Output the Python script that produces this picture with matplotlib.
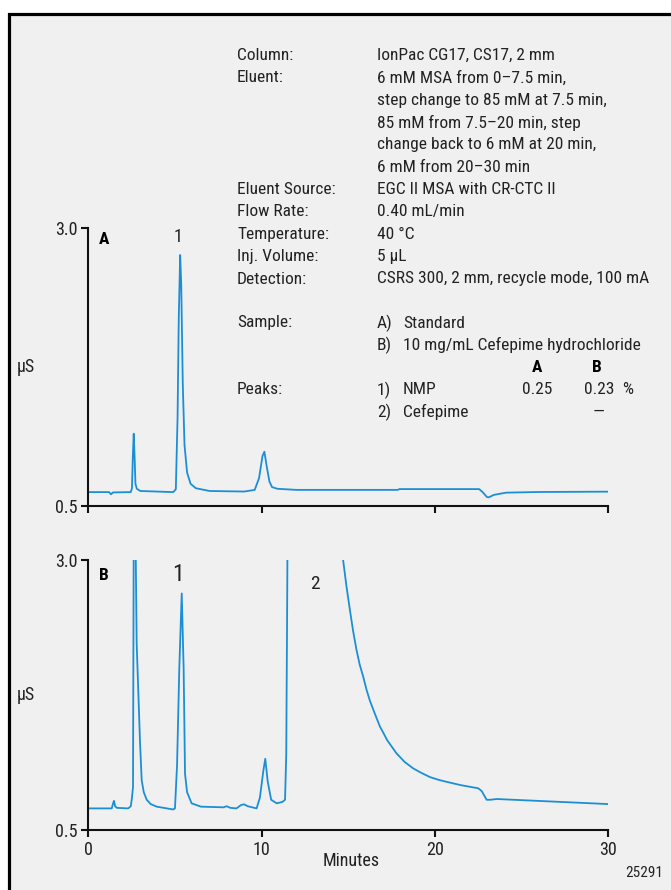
import matplotlib
matplotlib.use("Agg")
import matplotlib.pyplot as plt
from matplotlib.patches import Rectangle

plt.rcParams['font.family'] = ['Roboto Condensed', 'Archivo Narrow', 'DejaVu Sans']

# ---------------- data ----------------
time_a = [0.0, 1.2, 1.31, 1.42, 2.45, 2.52, 2.57, 2.62, 2.67, 2.72, 2.80, 3.0,
          4.9, 5.05, 5.15, 5.22, 5.30, 5.36, 5.45, 5.55, 5.70, 5.9, 6.2, 7.0,
          9.0, 9.6, 9.85, 10.05, 10.16, 10.3, 10.45, 10.6, 10.9, 12.0,
          17.85, 17.95, 22.55, 22.75, 23.0, 23.1, 23.4, 24.1, 26.0, 30.0]
signal_a = [0.625, 0.625, 0.605, 0.622, 0.625, 0.66, 0.95, 1.15, 0.95, 0.70, 0.655, 0.635,
            0.625, 0.65, 1.3, 2.2, 2.757, 2.5, 1.6, 1.05, 0.80, 0.70, 0.66, 0.635,
            0.63, 0.645, 0.75, 0.95, 0.988, 0.85, 0.72, 0.67, 0.655, 0.645,
            0.645, 0.652, 0.652, 0.625, 0.58, 0.578, 0.60, 0.62, 0.626, 0.629]

time_b = [0.0, 1.35, 1.42, 1.48, 1.55, 1.65, 2.3, 2.45, 2.52, 2.58, 2.62, 2.68,
          2.74, 2.79, 2.98, 3.08, 3.2, 3.37, 3.6, 3.95, 4.9, 5.0, 5.12, 5.25, 5.39, 5.5,
          5.58, 5.70, 5.96, 6.5, 7.8, 7.98, 8.2, 8.55, 8.8, 8.98, 9.2, 9.71,
          9.9, 10.1, 10.21, 10.35, 10.55, 10.87, 11.2, 11.35, 11.42, 11.47, 11.52,
          14.6, 14.70, 14.9, 15.09, 15.28, 15.47, 15.66, 15.86, 16.05, 16.24, 16.5,
          16.82, 17.25, 17.78, 18.25, 18.75, 19.2, 19.71, 20.2, 20.67, 21.5,
          22.5, 22.7, 22.98, 23.2, 23.56, 30.0]
signal_b = [0.70, 0.70, 0.74, 0.77, 0.72, 0.705, 0.70, 0.72, 0.80, 0.9, 3.2, 4.5,
            3.0, 2.23, 1.33, 0.96, 0.85, 0.78, 0.74, 0.716, 0.69, 0.70, 1.1, 2.0, 2.69, 2.0,
            1.02, 0.85, 0.747, 0.716, 0.71, 0.72, 0.705, 0.70, 0.73, 0.738, 0.72, 0.70,
            0.80, 1.05, 1.16, 0.95, 0.78, 0.747, 0.76, 0.78, 1.2, 2.5, 4.0,
            3.1, 3.0, 2.75, 2.54, 2.34, 2.17, 2.03, 1.92, 1.80, 1.70, 1.59,
            1.46, 1.33, 1.21, 1.13, 1.07, 1.03, 0.99, 0.965, 0.946, 0.915,
            0.886, 0.86, 0.78, 0.78, 0.787, 0.74]

x_ticks = [0, 10, 20, 30]
x_tick_labels = ["0", "10", "20", "30"]
y_ticks = [0.5, 3.0]
y_tick_labels = ["0.5", "3.0"]

cond_labels = ["Column:", "Eluent:", "", "", "", "", "Eluent Source:", "Flow Rate:",
               "Temperature:", "Inj. Volume:", "Detection:"]
cond_values = ["IonPac CG17, CS17, 2 mm",
               "6 mM MSA from 0\u20137.5 min,",
               "step change to 85 mM at 7.5 min,",
               "85 mM from 7.5\u201320 min, step",
               "change back to 6 mM at 20 min,",
               "6 mM from 20\u201330 min",
               "EGC II MSA with CR-CTC II",
               "0.40 mL/min",
               "40 \u00b0C",
               "5 \u00b5L",
               "CSRS 300, 2 mm, recycle mode, 100 mA"]
sample_ids = ["A)", "B)"]
sample_names = ["Standard", "10 mg/mL Cefepime hydrochloride"]
peak_ids = ["1)", "2)"]
peak_names = ["NMP", "Cefepime"]
peak_amount_a = ["0.25", ""]
peak_amount_b = ["0.23", "\u2014"]

# ---------------- figure ----------------
W, H = 671, 890
fig = plt.figure(figsize=(W / 100, H / 100), dpi=100)
fig.patch.set_facecolor('white')

def fx(px):
    return px / W

def fy(py):
    return 1 - py / H

frame = Rectangle((fx(8.5), -0.1), 1.2, fy(13.5) + 0.1, transform=fig.transFigure,
                  facecolor='#f0f0f0', edgecolor='black', linewidth=2.3, zorder=-10)
fig.add_artist(frame)

line_color = '#1b8fd6'
text_color = '#222222'
FS = 12.5

def setup(ax):
    ax.set_facecolor('none')
    ax.set_xlim(0, 30)
    ax.set_ylim(0.5, 3.0)
    for s in ['top', 'right']:
        ax.spines[s].set_visible(False)
    for s in ['left', 'bottom']:
        ax.spines[s].set_linewidth(1.5)
        ax.spines[s].set_color('#111111')
    ax.set_yticks(y_ticks)
    ax.set_yticklabels(y_tick_labels)
    ax.set_xticks(x_ticks)
    ax.tick_params(axis='both', direction='out', length=5, width=1.5, colors='#111111',
                   labelsize=13, labelcolor=text_color, pad=3)
    ax.text(-0.12, 0.5, "\u00b5S", transform=ax.transAxes, ha='center', va='center',
            fontsize=13, color=text_color)

axA = fig.add_axes([fx(88.3), fy(506), fx(608.3) - fx(88.3), fy(228) - fy(506)])
setup(axA)
axA.set_xticklabels([])
axA.plot(time_a, signal_a, color=line_color, lw=1.3)
axA.text(0.9, 2.9, "A", fontsize=12.5, fontweight='bold', color='black', ha='center', va='center')
axA.text(5.15, 2.92, "1", fontsize=13, color=text_color, ha='center', va='center')

axB = fig.add_axes([fx(88.3), fy(830), fx(608.3) - fx(88.3), fy(560) - fy(830)])
setup(axB)
axB.set_xticklabels(x_tick_labels)
axB.plot(time_b, signal_b, color=line_color, lw=1.3)
axB.text(0.9, 2.86, "B", fontsize=12.5, fontweight='bold', color='black', ha='center', va='center')
axB.text(5.2, 2.87, "1", fontsize=17, color=text_color, ha='center', va='center')
axB.text(13.1, 2.78, "2", fontsize=14, color=text_color, ha='center', va='center')

fig.text(fx(351), fy(861), "Minutes", fontsize=13, color=text_color, ha='center', va='center')
fig.text(fx(663), fy(873), "25291", fontsize=11, color=text_color, ha='right', va='center')

# conditions block
y0, dy = 55.5, 22.35
for i, (lab, val) in enumerate(zip(cond_labels, cond_values)):
    yy = y0 + i * dy
    if lab:
        fig.text(fx(237), fy(yy), lab, fontsize=FS, color=text_color, va='center', ha='left')
    fig.text(fx(377), fy(yy), val, fontsize=FS, color=text_color, va='center', ha='left')

ys = 323
fig.text(fx(237), fy(ys), "Sample:", fontsize=FS, color=text_color, va='center')
for i, (sid, nm) in enumerate(zip(sample_ids, sample_names)):
    yy = ys + i * dy
    fig.text(fx(377), fy(yy), sid, fontsize=FS, color=text_color, va='center')
    fig.text(fx(403), fy(yy), nm, fontsize=FS, color=text_color, va='center')

fig.text(fx(537), fy(368), "A", fontsize=FS, fontweight='bold', color='black', ha='center', va='center')
fig.text(fx(597), fy(368), "B", fontsize=FS, fontweight='bold', color='black', ha='center', va='center')

yp = 390
fig.text(fx(237), fy(yp), "Peaks:", fontsize=FS, color=text_color, va='center')
for i in range(len(peak_ids)):
    yy = yp + i * dy
    fig.text(fx(377), fy(yy), peak_ids[i], fontsize=FS, color=text_color, va='center')
    fig.text(fx(403), fy(yy), peak_names[i], fontsize=FS, color=text_color, va='center')
    if peak_amount_a[i]:
        fig.text(fx(537), fy(yy), peak_amount_a[i], fontsize=FS, color=text_color, va='center', ha='center')
    if peak_amount_b[i]:
        fig.text(fx(599), fy(yy), peak_amount_b[i], fontsize=FS, color=text_color, va='center', ha='center')
fig.text(fx(628), fy(yp), "%", fontsize=FS, color=text_color, va='center', ha='center')

fig.savefig("out.png", dpi=100, facecolor=fig.get_facecolor())
